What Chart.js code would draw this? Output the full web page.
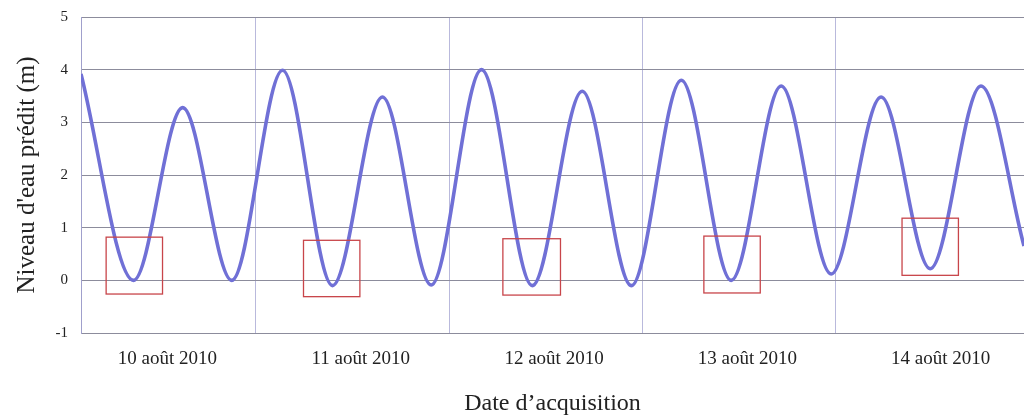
<!DOCTYPE html>
<html>
<head>
<meta charset="utf-8">
<script src="https://cdn.jsdelivr.net/npm/chart.js@4.4.0/dist/chart.umd.min.js"></script>
<style>
  body { margin: 0; background: #fff; }
  #wrap { width: 1024px; height: 418px; }
</style>
</head>
<body>
<div id="wrap"><canvas id="tide"></canvas></div>
<script>
// hours counted from 10 août 2010 00:00, at each high / low water
var tideHours  = [2.28, 8.8, 14.9, 21.0, 27.3, 33.5, 39.7, 45.75, 52.0, 58.3, 64.5, 70.6, 76.8, 83.0, 89.2, 95.4, 101.6, 107.7, 114.0, 119.34];
var tideLevels = [3.92, 0.0, 3.28, 0.0, 3.99, -0.1, 3.48, -0.09, 4.0, -0.1, 3.59, -0.1, 3.8, 0.0, 3.69, 0.12, 3.48, 0.22, 3.69, 0.65];

var dayLabels = ['10 août 2010', '11 août 2010', '12 août 2010', '13 août 2010', '14 août 2010'];
var dayBreaks = [24, 48, 72, 96];
var labelHour = 13;

// acquisition windows: start / end hour, top / bottom level (m)
var boxStart  = [5.4, 29.9, 54.65, 79.6, 104.2];
var boxEnd    = [12.4, 36.9, 61.8, 86.6, 111.2];
var boxTop    = [0.82, 0.76, 0.79, 0.84, 1.18];
var boxBottom = [-0.26, -0.31, -0.28, -0.24, 0.095];

var points = tideHours.map(function(h, i){ return {x: h, y: tideLevels[i]}; });

var serif = "'Liberation Serif', 'Times New Roman', serif";

var boxPlugin = {
    id: 'acqBoxes',
    afterDatasetsDraw: function(chart){
        var ctx = chart.ctx, xs = chart.scales.x, ys = chart.scales.y;
        ctx.save();
        ctx.strokeStyle = '#c8454a';
        ctx.lineWidth = 1.3;
        for (var i = 0; i < boxStart.length; i++) {
            var x1 = xs.getPixelForValue(boxStart[i]);
            var x2 = xs.getPixelForValue(boxEnd[i]);
            var y1 = ys.getPixelForValue(boxTop[i]);
            var y2 = ys.getPixelForValue(boxBottom[i]);
            ctx.strokeRect(x1, y1, x2 - x1, y2 - y1);
        }
        ctx.restore();
    }
};

var chart = new Chart(document.getElementById('tide'), {
    type: 'line',
    data: {
        datasets: [{
            data: points,
            borderColor: '#7070d6',
            borderWidth: 3.6,
            pointRadius: 0,
            cubicInterpolationMode: 'monotone',
            fill: false
        }]
    },
    options: {
        responsive: true,
        maintainAspectRatio: false,
        animation: false,
        layout: { padding: { top: 17, right: 0, bottom: 0, left: 0 } },
        plugins: {
            legend: { display: false },
            tooltip: { enabled: false }
        },
        scales: {
            x: {
                type: 'linear',
                min: tideHours[0],
                max: tideHours[tideHours.length - 1],
                afterBuildTicks: function(scale){
                    var t = dayBreaks.map(function(v){ return {value: v}; });
                    dayLabels.forEach(function(l, i){ t.push({value: i * 24 + labelHour}); });
                    scale.ticks = t.sort(function(a, b){ return a.value - b.value; });
                },
                afterFit: function(scale){
                    scale.height = 85;
                    scale.paddingLeft = 0;
                    scale.paddingRight = 0;
                },
                ticks: {
                    autoSkip: false,
                    maxRotation: 0,
                    padding: 15,
                    color: '#222',
                    font: { family: serif, size: 19 },
                    callback: function(value){
                        if (value % 24 === 0) return '';
                        return dayLabels[Math.floor(value / 24)];
                    }
                },
                grid: {
                    drawTicks: false,
                    color: function(c){
                        return (c.tick && c.tick.value % 24 === 0) ? '#b9b9dc' : 'rgba(0,0,0,0)';
                    },
                    lineWidth: 1
                },
                border: { color: '#8c8c9c', width: 1 },
                title: {
                    display: true,
                    text: 'Date d\u2019acquisition',
                    color: '#222',
                    font: { family: serif, size: 24 },
                    padding: { top: 0, bottom: 0 }
                }
            },
            y: {
                min: -1,
                max: 5,
                afterFit: function(scale){
                    scale.width = 81;
                    scale.paddingTop = 0;
                    scale.paddingBottom = 0;
                },
                ticks: {
                    stepSize: 1,
                    padding: 13,
                    color: '#222',
                    font: { family: serif, size: 15 }
                },
                grid: {
                    drawTicks: false,
                    color: '#8c8c9c',
                    lineWidth: 1
                },
                border: { color: '#a0a0cc', width: 1 },
                title: {
                    display: true,
                    text: 'Niveau d\'eau prédit (m)',
                    color: '#222',
                    font: { family: serif, size: 25 },
                    padding: { top: 12, bottom: 0 }
                }
            }
        }
    },
    plugins: [boxPlugin]
});
</script>
</body>
</html>
